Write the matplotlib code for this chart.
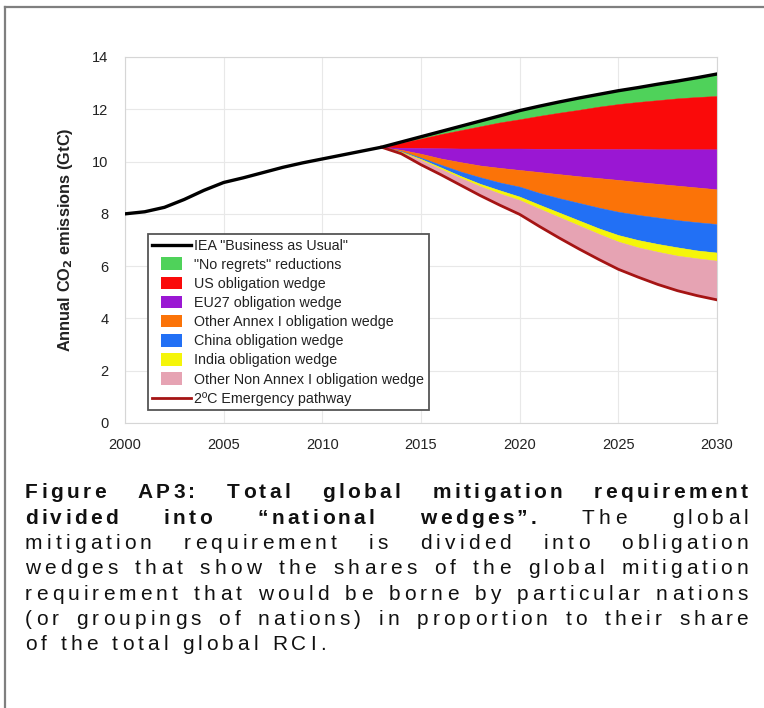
import matplotlib
matplotlib.use('Agg')
import matplotlib.pyplot as plt
from matplotlib.lines import Line2D
from matplotlib.patches import Patch, Rectangle
from matplotlib.legend_handler import HandlerPatch
from matplotlib.font_manager import FontProperties

# business as usual, 2000-2030
bau_years = list(range(2000, 2031))
bau = [8.0, 8.08, 8.25, 8.55, 8.9, 9.2, 9.38, 9.58, 9.78, 9.95,
       10.1, 10.25, 10.4, 10.55, 10.75, 10.95, 11.15, 11.35, 11.55, 11.75,
       11.95, 12.12, 12.28, 12.43, 12.57, 12.71, 12.83, 12.96, 13.08, 13.21,
       13.35]

# wedge boundaries, 2013-2030 (bottom edge of each band)
w_years = list(range(2013, 2031))
green_bot = [10.55, 10.72, 10.88, 11.05, 11.2, 11.35, 11.5, 11.62, 11.75,
             11.87, 11.98, 12.1, 12.2, 12.28, 12.35, 12.42, 12.47, 12.51]
red_bot = [10.55, 10.53, 10.52, 10.51, 10.5, 10.5, 10.5, 10.5, 10.49,
           10.49, 10.49, 10.48, 10.48, 10.48, 10.47, 10.47, 10.47, 10.47]
purple_bot = [10.55, 10.45, 10.3, 10.12, 9.98, 9.85, 9.76, 9.68, 9.6,
              9.52, 9.44, 9.37, 9.3, 9.22, 9.15, 9.08, 9.01, 8.94]
orange_bot = [10.55, 10.4, 10.15, 9.88, 9.62, 9.4, 9.2, 9.04, 8.8,
              8.6, 8.42, 8.24, 8.08, 7.96, 7.86, 7.76, 7.68, 7.61]
blue_bot = [10.55, 10.38, 10.1, 9.78, 9.45, 9.15, 8.9, 8.66, 8.35,
            8.05, 7.75, 7.45, 7.19, 7.0, 6.85, 6.72, 6.6, 6.52]
yellow_bot = [10.55, 10.35, 10.06, 9.72, 9.38, 9.06, 8.78, 8.53, 8.2,
              7.88, 7.56, 7.24, 6.94, 6.72, 6.55, 6.4, 6.3, 6.21]
emergency = [10.55, 10.3, 9.88, 9.5, 9.1, 8.7, 8.33, 7.98, 7.52,
             7.08, 6.66, 6.26, 5.88, 5.58, 5.3, 5.06, 4.87, 4.71]

labels = ['IEA "Business as Usual"', '"No regrets" reductions',
          'US obligation wedge', 'EU27 obligation wedge',
          'Other Annex I obligation wedge', 'China obligation wedge',
          'India obligation wedge', 'Other Non Annex I obligation wedge',
          '2ºC Emergency pathway']
wedge_colors = ['#4fd25a', '#fa0a0a', '#9a17d3', '#fb7308',
                '#2270f5', '#f5f50a', '#e6a3b3']

caption = [
    [('Figure', 'bold'), ('AP3:', 'bold'), ('Total', 'bold'), ('global', 'bold'),
     ('mitigation', 'bold'), ('requirement', 'bold')],
    [('divided', 'bold'), ('into', 'bold'), ('\u201cnational', 'bold'),
     ('wedges\u201d.', 'bold'), ('The', 'normal'), ('global', 'normal')],
    'mitigation requirement is divided into obligation',
    'wedges that show the shares of the global mitigation',
    'requirement that would be borne by particular nations',
    '(or groupings of nations) in proportion to their share',
    'of the total global RCI.',
]

plt.rcParams['font.family'] = ['Liberation Sans', 'DejaVu Sans']

W, H = 764, 708
fig = plt.figure(figsize=(W / 100, H / 100), dpi=100)
ax = fig.add_axes([125 / W, 1 - 423 / H, 592 / W, 366 / H])

bounds = [bau[13:], green_bot, red_bot, purple_bot, orange_bot,
          blue_bot, yellow_bot, emergency]
for i, c in enumerate(wedge_colors):
    ax.fill_between(w_years, bounds[i], bounds[i + 1], facecolor=c,
                    edgecolor=c, lw=0.3, zorder=2)
ax.plot(w_years, emergency, color='#a51414', lw=2, zorder=3)
ax.plot(bau_years, bau, color='black', lw=2.4, zorder=4)

ax.set_xlim(2000, 2030)
ax.set_ylim(0, 14)
ax.set_xticks(range(2000, 2031, 5))
ax.set_yticks(range(0, 15, 2))
ax.grid(True, color='#e8e8e8', lw=0.8)
ax.set_axisbelow(True)
ax.tick_params(length=0, labelsize=10.5, labelcolor='#222222')
ax.tick_params(axis='y', pad=12)
ax.tick_params(axis='x', pad=11)
for s in ax.spines.values():
    s.set_color('#d6d6d6')
ax.set_ylabel(r'Annual CO$_\mathbf{2}$ emissions (GtC)', fontsize=11.8,
              fontweight='bold', color='#222222', labelpad=12)


class SmallBox(HandlerPatch):
    def create_artists(self, legend, orig_handle, xdescent, ydescent,
                       width, height, fontsize, trans):
        bw = width * 0.55
        bh = height * 1.25
        r = Rectangle((-xdescent + (width - bw) / 2, -ydescent + (height - bh) / 2),
                      bw, bh, facecolor=orig_handle.get_facecolor(),
                      edgecolor='none', transform=trans)
        return [r]


handles = [Line2D([], [], color='black', lw=2.4)]
handles += [Patch(facecolor=c) for c in wedge_colors]
handles += [Line2D([], [], color='#a51414', lw=2)]
leg = ax.legend(handles, labels, loc='lower left',
                bbox_to_anchor=(23 / 592, 13 / 366), borderaxespad=0,
                fontsize=10.3, frameon=True, fancybox=False, framealpha=1,
                edgecolor='#555555', handlelength=2.7, handletextpad=0.25,
                labelspacing=0.36, borderpad=0.3,
                handler_map={Patch: SmallBox()})
leg.get_frame().set_linewidth(1.3)
for t in leg.get_texts():
    t.set_color('#222222')
leg.set_zorder(6)

# page frame
fig.add_artist(Line2D([5 / W, 1], [1 - 7 / H, 1 - 7 / H], color='#7f7f7f', lw=1.6))
fig.add_artist(Line2D([5 / W, 5 / W], [0, 1 - 7 / H], color='#7f7f7f', lw=1.6))

# caption: letter-spaced, justified text
renderer = fig.canvas.get_renderer()
x0, x1 = 25, 748
track = {'normal': 4.1, 'bold': 3.3}
cap_size = 15
baselines = [498, 523.5, 549, 574.5, 600, 625, 650]
fprops = {wt: FontProperties(family='Liberation Sans', weight=wt, size=cap_size)
          for wt in ('normal', 'bold')}


def char_w(ch, wt):
    p = fprops[wt]
    w2 = renderer.get_text_width_height_descent('H' + ch + 'H', p, ismath=False)[0]
    w1 = renderer.get_text_width_height_descent('HH', p, ismath=False)[0]
    return w2 - w1


def word_w(word, wt):
    return sum(char_w(c, wt) for c in word) + track[wt] * (len(word) - 1)


for li, line in enumerate(caption):
    if isinstance(line, str):
        line = [(w, 'normal') for w in line.split()]
    widths = [word_w(w, wt) for w, wt in line]
    if li < len(caption) - 1:
        gap = (x1 - x0 - sum(widths)) / (len(line) - 1)
    else:
        gap = char_w(' ', 'normal') + 2 * track['normal']
    y = 1 - baselines[li] / H
    x = x0
    for (word, wt), wd in zip(line, widths):
        cx = x
        for ch in word:
            fig.text(cx / W, y, ch, fontproperties=fprops[wt], color='#111111',
                     va='baseline', ha='left')
            cx += char_w(ch, wt) + track[wt]
        x += wd + gap

fig.savefig('out.png', dpi=100)
